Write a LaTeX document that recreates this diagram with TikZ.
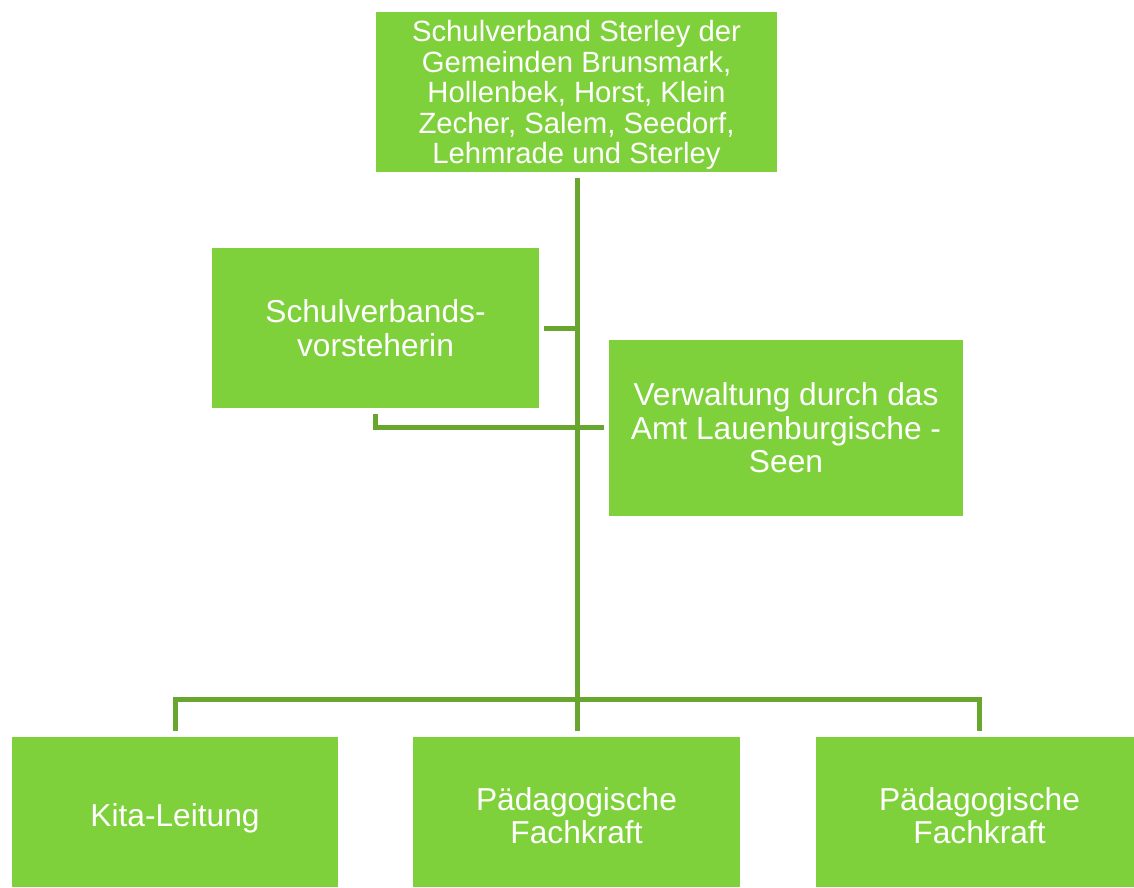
\documentclass[tikz,border=0pt]{standalone}
\usepackage{fontspec}
\setmainfont{Liberation Sans}
\definecolor{boxgreen}{RGB}{127,209,59}
\definecolor{linegreen}{RGB}{104,166,48}
\begin{document}
\begin{tikzpicture}[x=1pt,y=-1pt,
  orgbox/.style={fill=boxgreen,draw=none,inner sep=0pt},
  lbl/.style={text=white,align=center,inner sep=0pt},
  big/.style={font=\fontsize{31.7}{33.5}\selectfont},
  conn/.style={draw=linegreen,line width=5pt}]
\useasboundingbox (0,0) rectangle (1134,887);
\clip (0,0) rectangle (1134,887);
\node[orgbox,minimum width=401pt,minimum height=160pt,
  label={[lbl,name=topt,yshift=-3pt,font=\fontsize{29.3}{30.5}\selectfont]center:{Schulverband Sterley der\\Gemeinden Brunsmark,\\Hollenbek, Horst, Klein\\Zecher, Salem, Seedorf,\\Lehmrade und Sterley}}]
  (top) at (576.5,92) {};
\node[orgbox,minimum width=327pt,minimum height=160pt,
  label={[lbl,name=svt,big,font=\fontsize{31.7}{34}\selectfont]center:{Schulverbands-\\vorsteherin}}]
  (sv) at (375.5,328) {};
\node[orgbox,minimum width=354pt,minimum height=176pt,
  label={[lbl,name=vwt,big]center:{Verwaltung durch das\\Amt Lauenburgische -\\Seen}}]
  (vw) at (786,428) {};
\node[orgbox,minimum width=326pt,minimum height=150pt,
  label={[lbl,name=k1t,big,yshift=-6pt]center:{Kita-Leitung}}]
  (k1) at (175,812) {};
\node[orgbox,minimum width=327pt,minimum height=150pt,
  label={[lbl,name=k2t,big,yshift=-4pt,font=\fontsize{31.7}{33}\selectfont]center:{Pädagogische\\Fachkraft}}]
  (k2) at (576.5,812) {};
\node[orgbox,minimum width=327pt,minimum height=150pt,
  label={[lbl,name=k3t,big,yshift=-4pt,font=\fontsize{31.7}{33}\selectfont]center:{Pädagogische\\Fachkraft}}]
  (k3) at (979.5,812) {};
\coordinate (trunkend) at (577,730);
\coordinate (bar) at (577,699);
\coordinate (svj) at (577,328);
\coordinate (vwj) at (375.5,427.5);
\draw[conn] ([yshift=-6pt]top.south -| trunkend) -- (trunkend);
\draw[conn] ([xshift=5pt]sv.east) -- (svj);
\draw[conn] ([yshift=-6pt]sv.south) -- (vwj) -- ([xshift=-5pt]vw.west |- vwj);
\draw[conn] ([yshift=6pt]k1.north) -- (k1.north |- bar) -- (k3.north |- bar) -- ([yshift=6pt]k3.north);
\draw[conn] (bar) -- ([yshift=6pt]k2.north -| bar);
\end{tikzpicture}
\end{document}
